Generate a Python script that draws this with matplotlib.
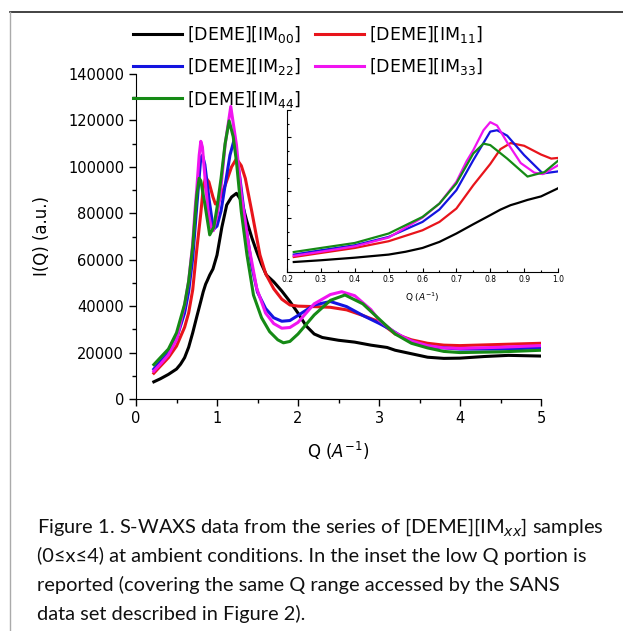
import matplotlib
matplotlib.use("Agg")
import matplotlib.pyplot as plt
from matplotlib.lines import Line2D
from matplotlib.ticker import MultipleLocator, NullFormatter

plt.rcParams['font.family'] = ['DejaVu Sans']
plt.rcParams['mathtext.fontset'] = 'dejavusans'

# S-WAXS intensity, I(Q) in a.u., per sample
q_im00 = [0.22, 0.3, 0.4, 0.5, 0.55, 0.6, 0.65, 0.7, 0.75, 0.8, 0.83, 0.86, 0.88, 0.91,
          0.95, 1.0, 1.06, 1.12, 1.18, 1.24, 1.3, 1.37, 1.43, 1.49, 1.55, 1.61, 1.7, 1.8,
          1.9, 2.0, 2.1, 2.2, 2.3, 2.5, 2.7, 2.9, 3.1, 3.2, 3.4, 3.6, 3.8, 4.0, 4.3, 4.6, 5.0]
i_im00 = [7400, 8700, 10600, 12900, 15000, 17800, 22300, 28500, 35400, 42100, 46200, 49500,
          51000, 53400, 56000, 62000, 74000, 83600, 87000, 88600, 85500, 76400, 69500, 63500,
          58000, 53400, 50500, 46500, 42000, 37000, 31500, 28000, 26500, 25300, 24500, 23200,
          22200, 21000, 19500, 18000, 17500, 17600, 18300, 18800, 18500]

q_im11 = [0.22, 0.3, 0.4, 0.5, 0.6, 0.65, 0.7, 0.75, 0.8, 0.83, 0.86, 0.9, 0.95, 0.98,
          1.02, 1.1, 1.18, 1.24, 1.3, 1.35, 1.43, 1.53, 1.6, 1.7, 1.8, 1.9, 2.0, 2.2, 2.4,
          2.6, 2.8, 3.0, 3.2, 3.4, 3.6, 3.8, 4.0, 4.5, 5.0]
i_im11 = [11100, 14100, 17800, 22800, 30900, 37100, 47000, 64300, 80000, 91000, 95500, 93500,
          87000, 84000, 85000, 92000, 100000, 103500, 100500, 95000, 80700, 62100, 54000,
          47500, 43000, 40500, 40000, 39800, 39500, 38400, 36000, 33300, 28000, 25500, 24000,
          23200, 23000, 23500, 24000]

q_im22 = [0.22, 0.3, 0.4, 0.5, 0.6, 0.65, 0.7, 0.75, 0.8, 0.82, 0.85, 0.9, 0.955, 1.0,
          1.05, 1.1, 1.16, 1.21, 1.28, 1.35, 1.43, 1.5, 1.6, 1.7, 1.8, 1.9, 2.0, 2.2, 2.4,
          2.6, 2.8, 3.0, 3.14, 3.3, 3.5, 3.7, 4.0, 4.5, 5.0]
i_im22 = [12900, 16100, 19800, 26000, 37100, 46300, 60600, 82900, 104000, 105000, 101000,
          86600, 73000, 74500, 81000, 92000, 105000, 111500, 96000, 76000, 57000, 46000, 39000,
          35000, 33500, 33800, 36000, 40500, 42000, 39800, 36000, 32600, 30000, 26500, 23500,
          22300, 21500, 21500, 22000]

q_im33 = [0.22, 0.3, 0.4, 0.5, 0.6, 0.65, 0.7, 0.73, 0.75, 0.78, 0.8, 0.82, 0.85, 0.89,
          0.93, 0.955, 1.0, 1.04, 1.1, 1.17, 1.24, 1.3, 1.39, 1.49, 1.6, 1.7, 1.8, 1.9, 2.0,
          2.2, 2.4, 2.54, 2.7, 2.9, 3.0, 3.2, 3.4, 3.6, 3.8, 4.0, 4.5, 5.0]
i_im33 = [12000, 15000, 19000, 25500, 40300, 50700, 66800, 82000, 90300, 105000, 111000,
          108500, 96000, 80700, 73600, 72500, 79000, 88000, 109500, 126000, 109500, 87900,
          66400, 47700, 37000, 32500, 30500, 30800, 33000, 41000, 45000, 46200, 44500, 38500,
          34000, 28500, 25000, 23000, 22000, 21800, 22300, 23000]

q_im44 = [0.22, 0.3, 0.4, 0.5, 0.6, 0.65, 0.7, 0.75, 0.78, 0.8, 0.85, 0.91, 0.96, 1.0,
          1.05, 1.1, 1.15, 1.2, 1.24, 1.3, 1.37, 1.45, 1.55, 1.65, 1.75, 1.82, 1.9, 2.0,
          2.2, 2.4, 2.58, 2.8, 3.0, 3.2, 3.4, 3.6, 3.8, 4.0, 4.5, 5.0]
i_im44 = [14800, 17800, 21500, 28500, 40800, 50700, 65600, 87800, 95100, 94000, 84000,
          70700, 74000, 82400, 95000, 110000, 119800, 113000, 102300, 80700, 62100, 44800,
          35000, 29000, 25500, 24200, 24800, 28000, 36200, 42500, 44800, 41000, 34500, 28000,
          24000, 22000, 20500, 20000, 20300, 21000]

labels = [r'[DEME][IM$_{00}$]', r'[DEME][IM$_{11}$]', r'[DEME][IM$_{22}$]',
          r'[DEME][IM$_{33}$]', r'[DEME][IM$_{44}$]']
colors = ['black', '#e8141b', '#1414e0', '#f014f0', '#158a15']
series = [(q_im00, i_im00), (q_im11, i_im11), (q_im22, i_im22),
          (q_im33, i_im33), (q_im44, i_im44)]

fig = plt.figure(figsize=(6.23, 6.31), dpi=100)
W, H = 623, 631

# page frame
fig.add_artist(Line2D([10 / W, 1], [1 - 12 / H, 1 - 12 / H], color='#222222', lw=1.2))
fig.add_artist(Line2D([10 / W, 10 / W], [0, 1 - 12 / H], color='#aaaaaa', lw=1.0))

# main axes
ax = fig.add_axes([136 / W, 1 - 399 / H, 405 / W, 325 / H])
handles = []
for (q, i), c, lab in zip(series, colors, labels):
    h, = ax.plot(q, i, color=c, lw=2.2, label=lab, solid_joinstyle='round')
    handles.append(h)
ax.set_xlim(0, 5)
ax.set_ylim(0, 140000)
ax.spines['top'].set_visible(False)
ax.spines['right'].set_visible(False)
ax.xaxis.set_major_locator(MultipleLocator(1))
ax.xaxis.set_minor_locator(MultipleLocator(0.5))
ax.yaxis.set_major_locator(MultipleLocator(20000))
ax.yaxis.set_minor_locator(MultipleLocator(10000))
ax.tick_params(which='major', direction='out', length=5, width=1, labelsize=10.5)
ax.tick_params(which='minor', direction='out', length=3, width=1)
ax.set_xlabel(r'Q ($A^{-1}$)', fontsize=12, labelpad=10)
ax.set_ylabel('I(Q) (a.u.)', fontsize=12, labelpad=12)

# legend above the plot, two columns
order = [0, 2, 4, 1, 3]
fig.legend([handles[k] for k in order], [labels[k] for k in order], ncol=2,
           loc='upper left', bbox_to_anchor=(133 / W, 1 - 24 / H), frameon=False,
           fontsize=12.5, handlelength=2.8, handletextpad=0.3, columnspacing=0.8,
           labelspacing=0.65, borderaxespad=0, borderpad=0)

# inset: low Q region
ins = fig.add_axes([287 / W, 1 - 272 / H, 271 / W, 162 / H])
for (q, i), c in zip(series, colors):
    ins.plot(q, i, color=c, lw=1.6, solid_joinstyle='round')
ins.set_xlim(0.2, 1.0)
ins.set_ylim(0, 120000)
ins.patch.set_alpha(0)
ins.spines['top'].set_visible(False)
ins.spines['right'].set_visible(False)
ins.xaxis.set_major_locator(MultipleLocator(0.1))
ins.xaxis.set_minor_locator(MultipleLocator(0.05))
ins.yaxis.set_major_locator(MultipleLocator(20000))
ins.yaxis.set_minor_locator(MultipleLocator(10000))
ins.yaxis.set_major_formatter(NullFormatter())
ins.tick_params(which='major', direction='in', length=3, width=0.8, labelsize=5.5, pad=2)
ins.tick_params(which='minor', direction='in', length=1.5, width=0.8)
ins.set_xlabel(r'Q ($A^{-1}$)', fontsize=6.5, labelpad=5)

# caption
caption = ['Figure 1. S-WAXS data from the series of [DEME][IM$_{xx}$] samples',
           '(0\u2264x\u22644) at ambient conditions. In the inset the low Q portion is',
           'reported (covering the same Q range accessed by the SANS',
           'data set described in Figure 2).']
for k, line in enumerate(caption):
    fig.text(37 / W, 1 - (527 + 29 * k) / H, line, fontsize=14.4, family=['Lato', 'DejaVu Sans'],
             va='center', ha='left', color='#111111')

fig.savefig('out.png', dpi=100)
